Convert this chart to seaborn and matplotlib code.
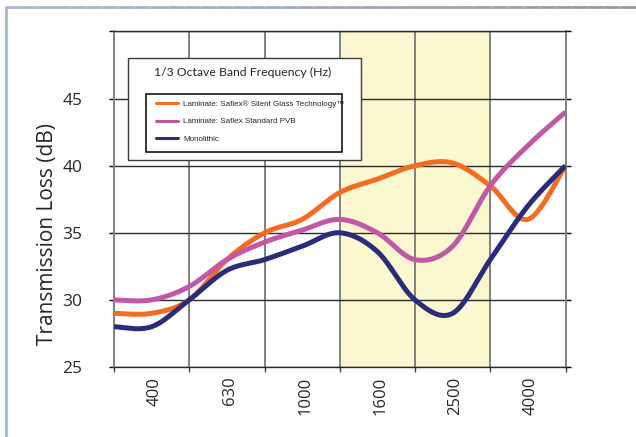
import numpy as np
import pandas as pd
import matplotlib
matplotlib.use("Agg")
import matplotlib.pyplot as plt
import matplotlib.transforms as mtransforms
from matplotlib.patches import Rectangle
from matplotlib.lines import Line2D
from matplotlib.collections import LineCollection
import seaborn as sns

# ---------------- data ----------------
freqs = ["315", "400", "500", "630", "800", "1000", "1250", "1600",
         "2000", "2500", "3150", "4000", "5000"]
silent_glass = [29, 29, 30, 33, 35, 36, 38, 39, 40, 40.2, 38.5, 36, 40]
standard_pvb = [30, 30, 31, 33, 34.3, 35.2, 36, 35, 33, 34, 38.5, 41.5, 44]
monolithic = [28, 28, 30, 32.2, 33, 34, 35, 33.6, 30, 29, 33, 37, 40]
series_names = ["Laminate: Saflex\u00ae Silent Glass Technology\u2122",
                "Laminate: Saflex Standard PVB",
                "Monolithic"]
labelled_freqs = ["400", "630", "1000", "1600", "2500", "4000"]
highlight = ("1250", "3150")
yticks = [25, 30, 35, 40, 45, 50]
colors = ["#F36C21", "#C257A6", "#2A2B7A"]

W, H = 636, 437


def smooth(xs, ys, n=24):
    """Excel-style smoothed line (cubic Bezier / Catmull-Rom through points)."""
    pts = np.column_stack([xs, ys]).astype(float)
    P = np.vstack([pts[0], pts, pts[-1]])
    out = []
    t = np.linspace(0, 1, n, endpoint=False)[:, None]
    for i in range(1, len(P) - 2):
        p0, p1, p2, p3 = P[i - 1], P[i], P[i + 1], P[i + 2]
        c1 = p1 + (p2 - p0) / 6
        c2 = p2 - (p3 - p1) / 6
        seg = ((1 - t) ** 3) * p1 + 3 * ((1 - t) ** 2) * t * c1 \
            + 3 * (1 - t) * t ** 2 * c2 + t ** 3 * p2
        out.append(seg)
    out.append(pts[-1:])
    return np.vstack(out)


xpos = np.arange(len(freqs))
frames = []
for name, vals in zip(series_names, [silent_glass, standard_pvb, monolithic]):
    s = smooth(xpos, vals)
    frames.append(pd.DataFrame({"x": s[:, 0], "y": s[:, 1], "series": name}))
df = pd.concat(frames, ignore_index=True)

# ---------------- style ----------------
sns.set_style("white")
plt.rcParams["font.family"] = ["Open Sans", "DejaVu Sans"]

fig = plt.figure(figsize=(W / 100, H / 100), dpi=100)
ax_left, ax_right, ax_top, ax_bottom = 114, 565.5, 31.5, 367
ax = fig.add_axes([ax_left / W, 1 - ax_bottom / H,
                   (ax_right - ax_left) / W, (ax_bottom - ax_top) / H])

ax.axvspan(freqs.index(highlight[0]), freqs.index(highlight[1]),
           color="#FBF7CF", zorder=0, lw=0)

sns.lineplot(data=df, x="x", y="y", hue="series", palette=colors,
             hue_order=series_names, sort=False, estimator=None,
             linewidth=3.6, legend=False, ax=ax, zorder=3)
for ln in ax.get_lines():
    ln.set_solid_capstyle("butt")

ax.set_xlim(0, len(freqs) - 1)
ax.set_ylim(yticks[0], yticks[-1])
ax.set_axisbelow(True)

# x axis: labels at odd bands, gridlines at even bands
ax.set_xticks([freqs.index(f) for f in labelled_freqs])
ax.set_xticklabels(labelled_freqs, rotation=90, fontsize=12)
ax.set_xticks(xpos[::2], minor=True)
ax.tick_params(axis="x", which="major", length=0, pad=7)
ax.tick_params(axis="x", which="minor", length=3.5, width=1, color="#404040",
               direction="out", bottom=True)
shift = mtransforms.ScaledTranslation(3 / 100, 0, fig.dpi_scale_trans)
for lab in ax.get_xticklabels():
    lab.set_transform(lab.get_transform() + shift)

ax.set_yticks(yticks)
ax.set_yticklabels([str(v) if v != yticks[-1] else "" for v in yticks], fontsize=12.5)
ax.tick_params(axis="y", which="major", length=3.6, width=1, color="black",
               direction="out", left=True, right=True, pad=19)

ax.grid(which="minor", axis="x", color="#808080", lw=1.4)
ax.grid(which="major", axis="y", color="#2a2a2a", lw=1.0)
ax.grid(which="major", axis="x", visible=False)
for side in ["left", "right"]:
    ax.spines[side].set_color("#808080")
    ax.spines[side].set_linewidth(1.4)
for side in ["top", "bottom"]:
    ax.spines[side].set_color("#2a2a2a")
    ax.spines[side].set_linewidth(1.0)

ax.set_xlabel("")
ax.set_ylabel("")
fig.text(48 / W, 1 - 234 / H, "Transmission Loss (dB)", rotation=90,
         ha="center", va="center", fontsize=15)


def px_rect(x0, y0, x1, y1, **kw):
    r = Rectangle((x0 / W, 1 - y1 / H), (x1 - x0) / W, (y1 - y0) / H,
                  transform=fig.transFigure, **kw)
    fig.add_artist(r)
    return r


# legend boxes
px_rect(128, 58, 361, 160, facecolor="white", edgecolor="#3a3a3a", lw=1.0, zorder=4)
px_rect(146, 94, 342, 152, facecolor="white", edgecolor="black", lw=1.1, zorder=4)
fig.text(243 / W, 1 - 72 / H, "1/3 Octave Band Frequency (Hz)", ha="center",
         va="center", fontsize=8.8, family=["Lato", "DejaVu Sans"], zorder=6)

fs = 5.8
handles = [Line2D([0], [0], color=c, lw=2.2) for c in colors]
leg = fig.legend(handles, series_names, loc="upper left",
                 bbox_to_anchor=(156 / W, 1 - 100 / H),
                 bbox_transform=fig.transFigure, frameon=False,
                 borderpad=0, borderaxespad=0, handlelength=15.8 / fs,
                 handletextpad=3.6 / fs, labelspacing=1.25,
                 prop={"family": ["Liberation Sans", "DejaVu Sans"], "size": fs})
leg.set_zorder(6)

# outer frame of the picture
seg_x = np.linspace(6 / W, 1, 40)
segs = [[(seg_x[i], 1 - 7 / H), (seg_x[i + 1], 1 - 7 / H)] for i in range(len(seg_x) - 1)]
cmap = matplotlib.colors.LinearSegmentedColormap.from_list("fr", ["#A8B9D3", "#9a9a9a"])
lc = LineCollection(segs, colors=[cmap(v) for v in np.linspace(0, 1, len(segs))],
                    linewidths=2, transform=fig.transFigure)
fig.add_artist(lc)
fig.add_artist(Line2D([6 / W, 6 / W], [0, 1 - 7 / H], color="#A8B9D3", lw=2,
                      transform=fig.transFigure))

fig.savefig("out.png", dpi=100)
